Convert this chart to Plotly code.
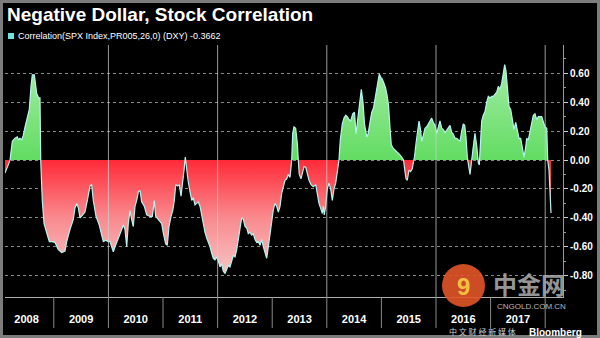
import plotly.graph_objects as go

# ---- data (decimal year, correlation) ----
dates = [2008.106, 2008.143, 2008.179, 2008.198, 2008.216, 2008.240, 2008.289, 2008.332, 2008.350, 2008.381,
         2008.412, 2008.441, 2008.473, 2008.504, 2008.527, 2008.551, 2008.582, 2008.606, 2008.643, 2008.661,
         2008.687, 2008.723, 2008.747, 2008.760, 2008.789, 2008.821, 2008.870, 2008.918, 2008.962, 2009.022,
         2009.082, 2009.145, 2009.205, 2009.236, 2009.297, 2009.328, 2009.357, 2009.388, 2009.419, 2009.449,
         2009.480, 2009.529, 2009.571, 2009.614, 2009.663, 2009.694, 2009.723, 2009.773, 2009.833, 2009.877,
         2009.907, 2009.951, 2009.998, 2010.029, 2010.060, 2010.090, 2010.121, 2010.152, 2010.194, 2010.244,
         2010.273, 2010.304, 2010.335, 2010.364, 2010.396, 2010.427, 2010.456, 2010.487, 2010.518, 2010.548,
         2010.579, 2010.610, 2010.658, 2010.701, 2010.762, 2010.804, 2010.841, 2010.866, 2010.914, 2010.976,
         2011.005, 2011.049, 2011.079, 2011.110, 2011.147, 2011.178, 2011.207, 2011.233, 2011.269, 2011.299,
         2011.330, 2011.361, 2011.390, 2011.408, 2011.427, 2011.458, 2011.495, 2011.526, 2011.555, 2011.586,
         2011.617, 2011.647, 2011.678, 2011.709, 2011.738, 2011.769, 2011.800, 2011.830, 2011.861, 2011.892,
         2011.921, 2011.952, 2011.984, 2012.013, 2012.044, 2012.075, 2012.104, 2012.136, 2012.167, 2012.196,
         2012.227, 2012.258, 2012.288, 2012.319, 2012.350, 2012.379, 2012.410, 2012.441, 2012.471, 2012.502,
         2012.533, 2012.562, 2012.593, 2012.624, 2012.654, 2012.685, 2012.716, 2012.745, 2012.777, 2012.808,
         2012.837, 2012.868, 2012.899, 2012.929, 2012.960, 2012.991, 2013.020, 2013.051, 2013.082, 2013.112,
         2013.143, 2013.174, 2013.203, 2013.234, 2013.266, 2013.295, 2013.326, 2013.357, 2013.375, 2013.399,
         2013.430, 2013.460, 2013.478, 2013.496, 2013.527, 2013.551, 2013.582, 2013.614, 2013.643, 2013.674,
         2013.711, 2013.753, 2013.797, 2013.826, 2013.857, 2013.888, 2013.918, 2013.936, 2013.954, 2013.980,
         2014.009, 2014.040, 2014.071, 2014.101, 2014.132, 2014.163, 2014.192, 2014.223, 2014.247, 2014.284,
         2014.315, 2014.346, 2014.376, 2014.406, 2014.438, 2014.474, 2014.507, 2014.535, 2014.566, 2014.595,
         2014.632, 2014.663, 2014.690, 2014.731, 2014.755, 2014.782, 2014.822, 2014.855, 2014.892, 2014.929,
         2014.961, 2014.993, 2015.016, 2015.048, 2015.075, 2015.103, 2015.130, 2015.158, 2015.181, 2015.218,
         2015.280, 2015.328, 2015.372, 2015.405, 2015.432, 2015.451, 2015.474, 2015.505, 2015.533, 2015.566,
         2015.588, 2015.606, 2015.634, 2015.665, 2015.689, 2015.713, 2015.738, 2015.767, 2015.799, 2015.830,
         2015.859, 2015.890, 2015.921, 2015.951, 2015.982, 2016.013, 2016.042, 2016.073, 2016.104, 2016.134,
         2016.165, 2016.196, 2016.225, 2016.256, 2016.288, 2016.317, 2016.348, 2016.379, 2016.408, 2016.440,
         2016.471, 2016.500, 2016.526, 2016.549, 2016.573, 2016.604, 2016.623, 2016.654, 2016.683, 2016.714,
         2016.745, 2016.775, 2016.793, 2016.811, 2016.837, 2016.866, 2016.897, 2016.929, 2016.958, 2016.989,
         2017.020, 2017.049, 2017.081, 2017.112, 2017.141, 2017.172, 2017.203, 2017.233, 2017.258, 2017.282,
         2017.306, 2017.337, 2017.368, 2017.397, 2017.429, 2017.460, 2017.489, 2017.520, 2017.551, 2017.581,
         2017.612, 2017.643, 2017.661, 2017.691, 2017.722, 2017.753, 2017.782, 2017.813, 2017.844, 2017.874,
         2017.905, 2017.936, 2017.965, 2017.996, 2018.028, 2018.046, 2018.070, 2018.088, 2018.106]

corr = [-0.09, -0.06, -0.02, 0.00, 0.07, 0.13, 0.15, 0.16, 0.14, 0.15,
        0.14, 0.17, 0.23, 0.28, 0.30, 0.35, 0.51, 0.59, 0.59, 0.53,
        0.46, 0.43, 0.43, 0.00, -0.28, -0.44, -0.51, -0.565, -0.565, -0.57,
        -0.62, -0.64, -0.63, -0.565, -0.48, -0.44, -0.41, -0.33, -0.30, -0.33,
        -0.40, -0.38, -0.36, -0.28, -0.18, -0.17, -0.28, -0.39, -0.45, -0.52,
        -0.565, -0.555, -0.565, -0.565, -0.60, -0.635, -0.60, -0.565, -0.53, -0.48,
        -0.45, -0.48, -0.60, -0.44, -0.35, -0.415, -0.46, -0.32, -0.28, -0.22,
        -0.21, -0.29, -0.32, -0.38, -0.39, -0.39, -0.28, -0.39, -0.415, -0.44,
        -0.505, -0.58, -0.59, -0.46, -0.39, -0.35, -0.28, -0.17, -0.18, -0.17,
        -0.25, -0.16, -0.05, 0.02, -0.05, -0.14, -0.22, -0.28, -0.26, -0.31,
        -0.30, -0.29, -0.32, -0.39, -0.45, -0.50, -0.54, -0.565, -0.60, -0.645,
        -0.68, -0.69, -0.67, -0.70, -0.74, -0.72, -0.77, -0.785, -0.76, -0.73,
        -0.74, -0.69, -0.66, -0.67, -0.62, -0.55, -0.46, -0.40, -0.41, -0.46,
        -0.47, -0.51, -0.50, -0.52, -0.51, -0.55, -0.57, -0.565, -0.59, -0.55,
        -0.60, -0.645, -0.68, -0.60, -0.505, -0.415, -0.345, -0.30, -0.32, -0.36,
        -0.32, -0.23, -0.185, -0.14, -0.13, -0.10, -0.12, 0.00, 0.185, 0.23,
        0.22, 0.115, 0.00, -0.10, -0.13, -0.09, -0.046, -0.05, -0.10, -0.14,
        -0.17, -0.185, -0.17, -0.23, -0.30, -0.335, -0.37, -0.32, -0.38, -0.32,
        -0.20, -0.16, -0.20, -0.28, -0.20, -0.16, -0.07, 0.00, 0.14, 0.25,
        0.29, 0.31, 0.30, 0.28, 0.27, 0.32, 0.33, 0.18, 0.28, 0.39,
        0.49, 0.40, 0.25, 0.16, 0.18, 0.24, 0.33, 0.36, 0.44, 0.53,
        0.595, 0.57, 0.56, 0.53, 0.50, 0.45, 0.38, 0.22, 0.105, 0.08,
        0.06, 0.04, 0.02, 0.00, -0.08, -0.13, -0.14, -0.07, -0.08, -0.06,
        -0.01, 0.02, 0.115, 0.22, 0.27, 0.22, 0.13, 0.17, 0.22, 0.23,
        0.25, 0.27, 0.29, 0.26, 0.24, 0.185, 0.22, 0.27, 0.22, 0.21,
        0.19, 0.21, 0.23, 0.24, 0.19, 0.18, 0.15, 0.15, 0.14, 0.13,
        0.20, 0.25, 0.24, 0.16, 0.02, -0.07, -0.10, 0.00, 0.115, 0.185,
        0.10, -0.02, -0.035, 0.11, 0.27, 0.31, 0.335, 0.40, 0.44, 0.43,
        0.44, 0.44, 0.46, 0.47, 0.51, 0.49, 0.53, 0.62, 0.66, 0.615,
        0.51, 0.37, 0.35, 0.28, 0.21, 0.26, 0.195, 0.15, 0.15, 0.09,
        0.02, 0.09, 0.15, 0.14, 0.195, 0.25, 0.31, 0.32, 0.28, 0.30,
        0.30, 0.30, 0.265, 0.23, 0.22, 0.00, -0.07, -0.21, -0.3662]

years = [2008, 2009, 2010, 2011, 2012, 2013, 2014, 2015, 2016, 2017]
y_ticks = [0.6, 0.4, 0.2, 0.0, -0.2, -0.4, -0.6, -0.8]
title_text = "Negative Dollar, Stock Correlation"
legend_text = "Correlation(SPX Index,PR005,26,0) (DXY) -0.3662"

# ---- split at zero crossings ----
xs, ys = [], []
for i in range(len(dates)):
    if i > 0:
        a, b = corr[i - 1], corr[i]
        if a * b < 0:
            t = a / (a - b)
            xs.append(dates[i - 1] + t * (dates[i] - dates[i - 1]))
            ys.append(0.0)
    xs.append(dates[i])
    ys.append(corr[i])
pos = [max(v, 0.0) for v in ys]
neg = [min(v, 0.0) for v in ys]

W, H = 600, 338
L, R, T, B = 5, 37, 45, 41
pw, ph = W - L - R, H - T - B


def px(x):
    return (x - L) / pw


def py(y):
    return (H - B - y) / ph


fig = go.Figure()
fig.add_trace(go.Scatter(
    x=xs, y=neg, mode="lines", line=dict(width=0), fill="tozeroy",
    fillgradient=dict(type="vertical", start=-0.8, stop=0.0,
                      colorscale=[[0, "#f6c6c6"], [0.5, "#f98a8e"], [1, "#ff2a38"]]),
    hoverinfo="skip", showlegend=False))
fig.add_trace(go.Scatter(
    x=xs, y=pos, mode="lines", line=dict(width=0), fill="tozeroy",
    fillgradient=dict(type="vertical", start=0.0, stop=0.65,
                      colorscale=[[0, "#62dc62"], [1, "#a2eca2"]]),
    hoverinfo="skip", showlegend=False))
fig.add_trace(go.Scatter(
    x=dates, y=corr, mode="lines", line=dict(color="#b4f4f0", width=1.2),
    showlegend=False))

shapes = []
# vertical gridlines every two years
for yv in [2010, 2012, 2014, 2016, 2018]:
    shapes.append(dict(type="line", xref="x", yref="paper", x0=yv, x1=yv, y0=0, y1=1,
                       line=dict(color="rgba(205,205,205,0.75)", width=1), layer="above"))
# year separators on the axis band
for yv in years[1:] + [2018]:
    shapes.append(dict(type="line", xref="x", yref="paper", x0=yv, x1=yv, y0=0, y1=-31 / ph,
                       line=dict(color="#8a8a8a", width=1)))
# legend square
shapes.append(dict(type="rect", xref="paper", yref="paper", x0=px(8), x1=px(14), y0=py(39), y1=py(33),
                   fillcolor="#6fe3e0", line=dict(width=0)))
# watermark circle
shapes.append(dict(type="circle", xref="paper", yref="paper", x0=px(442), x1=px(485), y0=py(307), y1=py(264),
                   fillcolor="rgba(226,84,40,0.9)", line=dict(width=0), layer="above"))
# grey frame
shapes.append(dict(type="rect", xref="paper", yref="paper", x0=px(0), x1=px(W), y0=py(H), y1=py(0),
                   line=dict(color="#7c7c7c", width=6), fillcolor="rgba(0,0,0,0)", layer="above"))

annotations = [
    dict(text="<b>" + title_text + "</b>", xref="paper", yref="paper", x=px(5), y=py(15),
         xanchor="left", yanchor="middle", showarrow=False,
         font=dict(family="Liberation Sans", size=19, color="white")),
    dict(text=legend_text, xref="paper", yref="paper", x=px(16), y=py(36),
         xanchor="left", yanchor="middle", showarrow=False,
         font=dict(family="Liberation Sans", size=9, color="white")),
    dict(text="<b>中金网</b>", xref="paper", yref="paper", x=px(529), y=py(283),
         xanchor="center", yanchor="middle", showarrow=False,
         font=dict(family="Noto Sans CJK SC", size=24, color="rgba(170,170,170,0.9)")),
    dict(text="<b>9</b>", xref="paper", yref="paper", x=px(463), y=py(286),
         xanchor="center", yanchor="middle", showarrow=False,
         font=dict(family="Liberation Sans", size=24, color="#f2c040")),
    dict(text="CNGOLD.COM.CN", xref="paper", yref="paper", x=px(531), y=py(306),
         xanchor="center", yanchor="middle", showarrow=False,
         font=dict(family="Liberation Sans", size=8, color="#b8b8b8")),
    dict(text="中 文 财 经 新 媒 体", xref="paper", yref="paper", x=px(482), y=py(331),
         xanchor="center", yanchor="middle", showarrow=False,
         font=dict(family="Noto Sans CJK SC", size=8, color="#cfcfcf")),
    dict(text="<b>Bloomberg</b>", xref="paper", yref="paper", x=px(584), y=py(332),
         xanchor="right", yanchor="middle", showarrow=False,
         font=dict(family="Liberation Sans", size=10, color="white")),
]

fig.update_layout(
    width=W, height=H, autosize=False,
    margin=dict(l=L, r=R, t=T, b=B, pad=0),
    paper_bgcolor="black", plot_bgcolor="black",
    shapes=shapes, annotations=annotations,
    xaxis=dict(range=[2008.106, 2018.326], tickmode="array",
               tickvals=[y + 0.5 for y in years], ticktext=["<b>%d</b>" % y for y in years],
               showgrid=False, zeroline=False, ticks="", showline=True,
               linecolor="#b0b0b0", linewidth=1,
               tickfont=dict(family="Liberation Sans", size=11, color="white"),
               ticklabelstandoff=12),
    yaxis=dict(range=[-0.948, 0.796], side="right", tickmode="array",
               tickvals=y_ticks, ticktext=["<b>%.2f</b>" % v for v in y_ticks],
               showgrid=True, gridcolor="#8a8a8a", griddash="dot", gridwidth=1,
               zeroline=False, showline=True, linecolor="#9a9a9a", linewidth=1,
               ticks="outside", ticklen=4, tickcolor="#cccccc",
               minor=dict(ticks="outside", ticklen=2, tickcolor="#999999", dtick=0.1, showgrid=False),
               tickfont=dict(family="Liberation Sans", size=10, color="white")),
)

fig.write_html("out.html")
